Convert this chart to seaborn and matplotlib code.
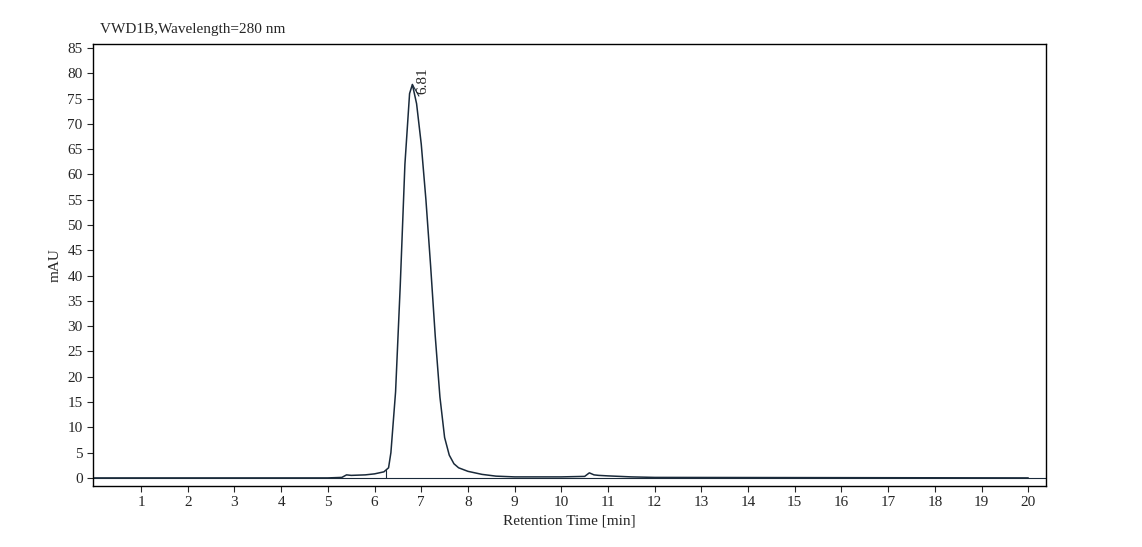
import matplotlib
matplotlib.use("Agg")
import matplotlib.pyplot as plt
import seaborn as sns
import pandas as pd

times = [0, 5.0, 5.3, 5.4, 5.5, 5.8, 6.0, 6.2, 6.3, 6.35, 6.45, 6.55, 6.65, 6.75, 6.81, 6.9, 7.0,
         7.1, 7.2, 7.3, 7.4, 7.5, 7.6, 7.7, 7.8, 8.0, 8.3, 8.6, 9.0, 10.0, 10.5, 10.6, 10.7,
         10.8, 11.0, 11.5, 12.0, 20.0]
signal = [0, 0, 0.1, 0.6, 0.5, 0.6, 0.8, 1.2, 2.0, 5, 17, 38, 62, 76, 77.8, 74, 66,
          55, 42, 28, 16, 8, 4.5, 2.8, 2.0, 1.3, 0.7, 0.35, 0.2, 0.2, 0.3, 1.0, 0.6,
          0.5, 0.4, 0.2, 0.1, 0]
peak_time = 6.81
peak_label = "6.81"
title = "VWD1B,Wavelength=280 nm"

sns.set_style("white")
plt.rcParams['font.family'] = ['Liberation Serif', 'DejaVu Serif']

fig = plt.figure(figsize=(11.42, 5.47), dpi=100)
ax = fig.add_axes([93/1142, 1-486/547, (1046-93)/1142, (486-44)/547])
df = pd.DataFrame({"t": times, "v": signal})
sns.lineplot(data=df, x="t", y="v", ax=ax, color="#1a2a3a", linewidth=1.1)
ax.axhline(0, color="#1a2a3a", linewidth=0.8)
ax.plot([6.25, 6.25], [0, 1.6], color="#1a2a3a", linewidth=0.8)
ax.plot([6.81, 6.95], [77.8, 75.5], color="#1a2a3a", linewidth=0.8)
ax.text(6.9, 76, peak_label, rotation=90, fontsize=11, ha="left", va="bottom")

ax.set_xlim(-0.03, 20.38)
ax.set_ylim(-1.6, 85.8)
ax.set_xticks(range(1, 21))
ax.set_yticks(range(0, 86, 5))
ax.tick_params(axis="both", direction="out", length=4, labelsize=11, left=True, bottom=True)
ax.set_xlabel("Retention Time [min]", fontsize=11)
ax.set_ylabel("mAU", fontsize=11)
for s in ax.spines.values():
    s.set_color("black"); s.set_linewidth(1)
fig.text(100/1142, 1-29/547, title, fontsize=11, va="center")
fig.savefig("out.png", dpi=100)
